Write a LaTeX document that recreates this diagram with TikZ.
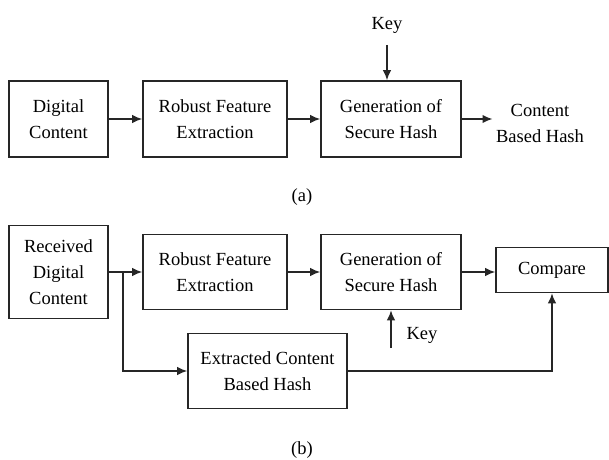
\documentclass[tikz,border=0pt]{standalone}
\usepackage{fontspec}
\setmainfont{Liberation Serif}
\usetikzlibrary{arrows.meta,positioning}

\begin{document}
\begin{tikzpicture}[x=1pt,y=1pt,>={Latex[length=10pt,width=8.5pt]}]
	\tikzstyle{every node}=[font=\fontsize{18.5}{26}\selectfont,align=center]
	\tikzstyle{block}=[shape=rectangle,draw=black!85,line width=1.6pt,inner sep=2pt]
	\tikzstyle{line}=[draw=black!85,line width=1.6pt]
	\useasboundingbox (0,0) rectangle (609,459);

	% (a) generation of the hash
	\node[block,minimum width=99,minimum height=76] (a1) at (58.5,340) {Digital\\Content};
	\node[block,minimum width=144,minimum height=76] (a2) at (215,340) {Robust Feature\\Extraction};
	\node[block,minimum width=140,minimum height=76] (a3) at (391,340) {Generation of\\Secure Hash};
	\node (a4) at (540,336) {Content\\Based Hash};
	\node (key1) at (387,434) {Key};
	\coordinate (k1) at (387,414);

	\draw[line,->] (a1) -- (a2);
	\draw[line,->] (a2) -- (a3);
	\draw[line,->] (a3) -- (a3 -| a4.west);
	\draw[line,->] (k1) -- (k1 |- a3.north);

	\node (capa) at (302,262) {(a)};

	% (b) verification
	\node[block,minimum width=99,minimum height=93] (b1) at (58.5,187) {Received\\Digital\\Content};
	\node[block,minimum width=144,minimum height=75] (b2) at (215,187) {Robust Feature\\Extraction};
	\node[block,minimum width=140,minimum height=75] (b3) at (391,187) {Generation of\\Secure Hash};
	\node[block,minimum width=112,minimum height=45] (b4) at (552,189) {Compare};
	\node[block,minimum width=159,minimum height=75] (b5) at (267.5,88) {Extracted Content\\Based Hash};
	\node (key2) at (422,124) {Key};
	\coordinate (br) at (123,187);
	\coordinate (k2) at (391,111);

	\draw[line,->] (b1.east |- br) -- (b2);
	\draw[line,->] (b2) -- (b3);
	\draw[line,->] (b3) -- (b3 -| b4.west);
	\draw[line,->] (br) |- (b5);
	\draw[line,->] (b5) -| (b4);
	\draw[line,->] (k2) -- (b3);

	\node (capb) at (302,9) {(b)};
\end{tikzpicture}
\end{document}
